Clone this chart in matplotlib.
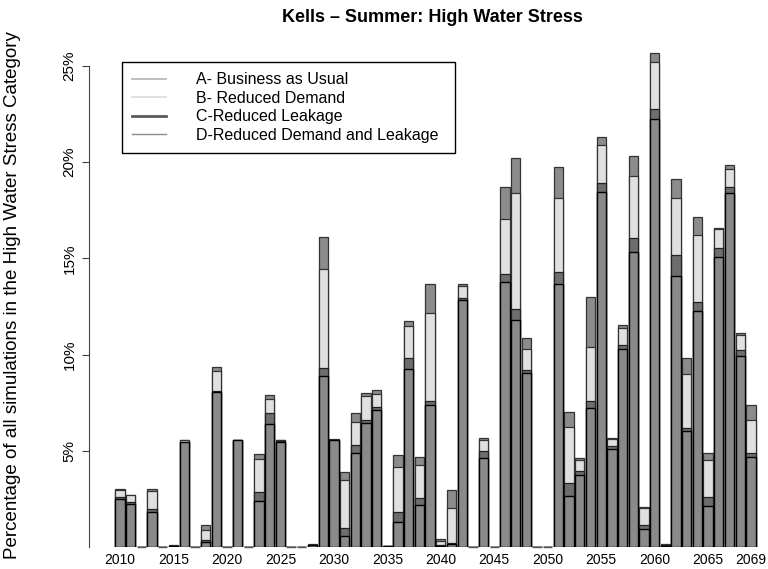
import matplotlib
matplotlib.use('Agg')
import matplotlib.pyplot as plt
from matplotlib.lines import Line2D

plt.rcParams['font.family'] = ['Liberation Sans', 'DejaVu Sans']

# Dati (% of simulations in the high water stress category), one value per year
anni = list(range(2010, 2070))
scen_a = [3.0, 2.72, 0, 3.04, 0, 0.08, 5.57, 0, 1.13, 9.34,
          0, 5.57, 0, 4.84, 7.92, 5.57, 0, 0, 0.15, 16.11,
          5.61, 3.89, 6.96, 8.0, 8.18, 0.05, 4.76, 11.75, 4.67, 13.65,
          0.44, 2.97, 13.68, 0, 5.66, 0, 18.71, 20.24, 10.87, 0,
          0, 19.77, 7.03, 4.62, 13.0, 21.29, 5.66, 11.56, 20.33, 2.1,
          25.7, 0.14, 19.11, 9.83, 17.15, 4.88, 16.56, 19.86, 11.13, 7.36]
scen_b = [2.95, 2.68, 0, 2.93, 0, 0.07, 5.55, 0, 0.89, 9.13,
          0, 5.56, 0, 4.57, 7.69, 5.55, 0, 0, 0.12, 14.46,
          5.58, 3.46, 6.49, 7.86, 7.95, 0.05, 4.18, 11.48, 4.25, 12.17,
          0.33, 2.05, 13.56, 0, 5.57, 0, 17.06, 18.42, 10.29, 0,
          0, 18.13, 6.22, 4.53, 10.4, 20.9, 5.6, 11.39, 19.29, 2.01,
          25.19, 0.1, 18.16, 8.99, 16.2, 4.53, 16.51, 19.64, 11.04, 6.61]
scen_c = [2.6, 2.33, 0, 1.98, 0, 0.07, 5.48, 0, 0.37, 8.13,
          0, 5.56, 0, 2.85, 6.96, 5.5, 0, 0, 0.1, 9.29,
          5.57, 1.01, 5.31, 6.58, 7.27, 0.04, 1.84, 9.81, 2.53, 7.57,
          0.1, 0.23, 12.95, 0, 4.97, 0, 14.2, 12.38, 9.22, 0,
          0, 14.31, 3.32, 3.96, 7.57, 18.94, 5.26, 10.52, 16.08, 1.15,
          22.76, 0.08, 15.16, 6.18, 12.73, 2.62, 15.56, 18.73, 10.26, 4.91]
scen_d = [2.5, 2.25, 0, 1.84, 0, 0.06, 5.45, 0, 0.27, 8.05,
          0, 5.55, 0, 2.41, 6.39, 5.45, 0, 0, 0.08, 8.87,
          5.55, 0.59, 4.91, 6.44, 7.14, 0.03, 1.32, 9.27, 2.19, 7.36,
          0.07, 0.15, 12.86, 0, 4.62, 0, 13.77, 11.79, 9.04, 0,
          0, 13.68, 2.67, 3.75, 7.22, 18.45, 5.09, 10.31, 15.35, 0.92,
          22.24, 0.06, 14.11, 6.04, 12.29, 2.15, 15.09, 18.39, 9.95, 4.7]

anni_etichette = [2010, 2015, 2020, 2025, 2030, 2035, 2040, 2045, 2050, 2055, 2060, 2065, 2069]
legenda = ['A- Business as Usual', 'B- Reduced Demand',
           'C-Reduced Leakage', 'D-Reduced Demand and Leakage']

fig = plt.figure(figsize=(7.68, 5.69), dpi=100)
ax = fig.add_axes([89 / 768, 22 / 569, 679 / 768, 500.2 / 569])

# overlapping bars, tallest scenario drawn first
larg = 0.87
ax.bar(anni, scen_a, width=larg, color='#8c8c8c', edgecolor='#333333', linewidth=0.9)
ax.bar(anni, scen_b, width=larg, color='#e0e0e0', edgecolor='#333333', linewidth=0.9)
ax.bar(anni, scen_c, width=larg, color='#6e6e6e', edgecolor='#222222', linewidth=0.9)
ax.bar(anni, scen_d, width=larg, color='#8a8a8a', edgecolor='black', linewidth=1.0)

# empty years still show the bar border as a flat line
vuoti = [a for a, v in zip(anni, scen_a) if v == 0]
ax.hlines([0] * len(vuoti), [a - larg / 2 for a in vuoti], [a + larg / 2 for a in vuoti],
          color='#555555', linewidth=1.0, clip_on=False)

ax.set_xlim(2007.1, 2070.6)
ax.set_ylim(0, 26)

for s in ['top', 'right', 'bottom']:
    ax.spines[s].set_visible(False)
ax.spines['left'].set_bounds(0, 25)
ax.spines['left'].set_color('#444444')

ax.set_yticks([5, 10, 15, 20, 25])
ax.set_yticklabels(['5%', '10%', '15%', '20%', '25%'], rotation=90, va='center', fontsize=11)
ax.tick_params(axis='y', length=5, color='#444444', pad=4)

ax.set_xticks(anni_etichette)
ax.set_xticklabels([str(a) for a in anni_etichette], fontsize=10)
ax.tick_params(axis='x', length=0, pad=4)

# legenda
maniglie = [Line2D([], [], color='#b4b4b4', lw=1.2),
            Line2D([], [], color='#dcdcdc', lw=1.2),
            Line2D([], [], color='#5a5a5a', lw=2.0),
            Line2D([], [], color='#8c8c8c', lw=1.0)]
leg = fig.legend(maniglie, legenda, loc='upper left', mode='expand',
                 bbox_to_anchor=(122 / 768, 1 - 150 / 569, 333 / 768, 88 / 569),
                 borderaxespad=0, fontsize=11.5, handlelength=2.1, handletextpad=1.9,
                 labelspacing=0.22, borderpad=0.65, fancybox=False, framealpha=1)
leg.get_frame().set_edgecolor('black')
leg.get_frame().set_linewidth(1.0)

fig.text(432 / 768, 1 - 18 / 569, 'Kells \u2013 Summer: High Water Stress',
         ha='center', va='center', fontsize=13, fontweight='bold')
fig.text(13 / 768, 1 - 295 / 569,
         'Percentage of all simulations in the High Water Stress Category',
         rotation=90, ha='center', va='center', fontsize=13.5)

fig.savefig('out.png', dpi=100)
